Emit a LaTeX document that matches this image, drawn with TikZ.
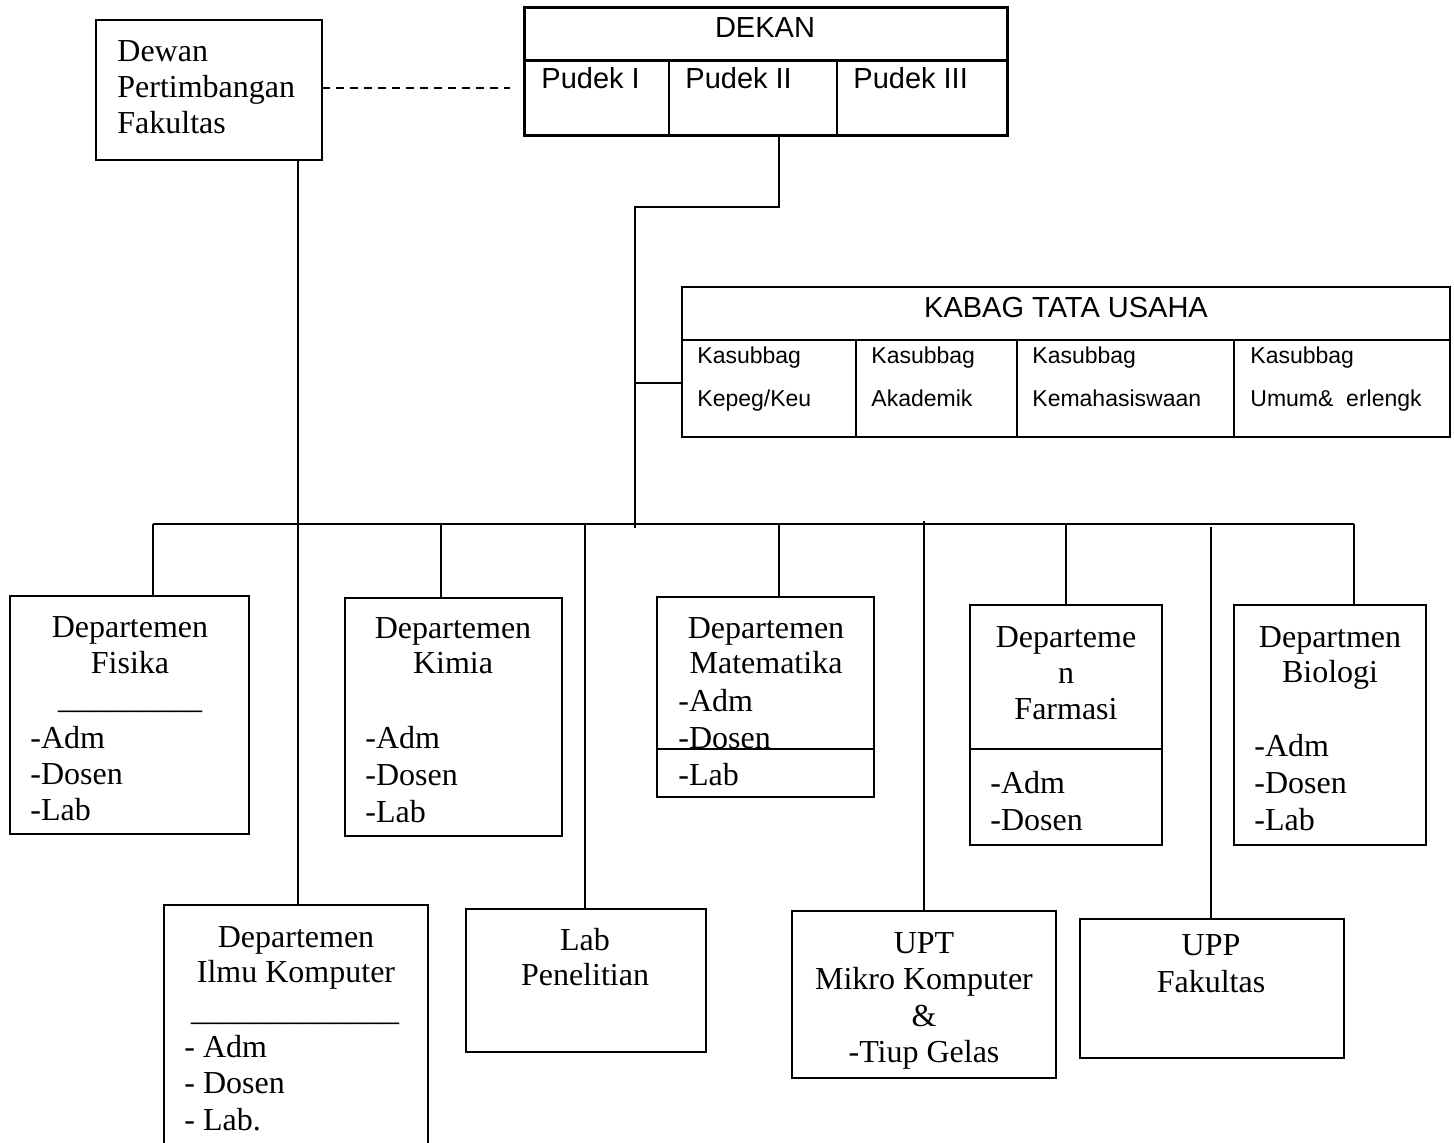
\documentclass[tikz,border=0pt]{standalone}
\usepackage{fontspec}
\setmainfont{Liberation Serif}
\newfontfamily\sansf{Liberation Sans}
\usetikzlibrary{fit}

\begin{document}
\begin{tikzpicture}[x=0.5pt,y=-0.5pt]

\tikzset{kotak/.style={draw,line width=1pt,inner sep=0pt,outer sep=0pt}, %kotak biasa
	garis/.style={line width=1pt},
	teks/.style={font=\fontsize{16}{18}\selectfont,inner sep=0pt},
	kiri/.style={teks,anchor=base west},
	tengah/.style={teks,anchor=base},
	judul/.style={font=\sansf\fontsize{14.5}{17}\selectfont,inner sep=0pt},
	kecil/.style={font=\sansf\fontsize{11.5}{14}\selectfont,inner sep=0pt,anchor=base west}}

\useasboundingbox (0,0) rectangle (1454,1142);

%--------------------DEKAN---------------------
	\node[kotak,line width=1.5pt,fit={(524,7) (1007,135)}] (dek) {};
	\draw[line width=1.5pt] (524,60) -- (1007,60);
	\draw[garis] (669,60) -- (669,135) (837,60) -- (837,135);
	\node[judul,anchor=base] (dek-t) at (765,37) {DEKAN};
	\node[judul,anchor=base west] (pd1) at (541,88) {Pudek I};
	\node[judul,anchor=base west] (pd2) at (685,88) {Pudek II};
	\node[judul,anchor=base west] (pd3) at (853,88) {Pudek III};

%--------------------Dewan Pertimbangan---------------------
	\node[kotak,fit={(96,20) (322,160)}] (dpf) {};
	\node[kiri] (dpf-1) at (117,61) {Dewan};
	\node[kiri] (dpf-2) at (117,97) {Pertimbangan};
	\node[kiri] (dpf-3) at (117,133) {Fakultas};
	\coordinate (dpf-e) at (510,88);
	\draw[line width=0.8pt,dash pattern=on 4pt off 3pt] (dpf.east |- dpf-e) -- (dpf-e);

%--------------------KABAG TATA USAHA---------------------
	\node[kotak,fit={(682,287) (1450,437)}] (kab) {};
	\draw[garis] (682,340) -- (1450,340);
	\foreach \x in {856,1017,1234}
		\draw[garis] (\x,340) -- (\x,437);
	\node[judul,anchor=base] (kab-t) at (1066,317) {KABAG TATA USAHA};
	\foreach \x/\t [count=\i] in {697/{Kepeg/Keu},871/Akademik,1032/Kemahasiswaan,1250/{Umum\&\ \ erlengk}}{
		\node[kecil] (ks-\i) at (\x,363) {Kasubbag};
		\node[kecil] (kb-\i) at (\x,406) {\t};
	}

%--------------------garis tengah---------------------
	\coordinate (p1) at (779,207);
	\coordinate (p2) at (635,207);
	\coordinate (p3) at (635,528);
	\coordinate (p4) at (635,383);
	\draw[garis] (p1 |- dek.south) -- (p1) -- (p2) -- (p3);
	\draw[garis] (p4) -- (kab.west |- p4);

	%garis bus
	\coordinate (bus-l) at (153,524);
	\coordinate (bus-r) at (1354,524);
	\draw[garis] (bus-l) -- (bus-r);

%--------------------Departemen (baris atas)---------------------
	\node[kotak,fit={(10,596) (249,834)}] (fis) {};
	\node[kotak,fit={(345,598) (562,836)}] (kim) {};
	\node[kotak,fit={(657,597) (874,797)}] (mat) {};
	\node[kotak,fit={(970,605) (1162,845)}] (far) {};
	\node[kotak,fit={(1234,605) (1426,845)}] (bio) {};
	\draw[garis] (657,749) -- (874,749);
	\draw[garis] (970,749) -- (1162,749);

	\foreach \x/\n in {153/fis,441/kim,779/mat,1066/far,1354/bio}{
		\coordinate (b) at (\x,524);
		\draw[garis] (b) -- (b |- \n.north);
	}

	%Fisika
	\node[tengah] (fis-1) at (130,637) {Departemen};
	\node[tengah] (fis-2) at (130,673) {Fisika};
	\node[tengah] (fis-u) at (130,708) {\_\_\_\_\_\_\_\_\_};
	\foreach \t [count=\i] in {-Adm,-Dosen,-Lab}
		\node[kiri] (fis-a\i) at (30,{748+36*(\i-1)}) {\t};

	%Kimia
	\node[tengah] (kim-1) at (453,638) {Departemen};
	\node[tengah] (kim-2) at (453,673) {Kimia};
	\foreach \t [count=\i] in {-Adm,-Dosen,-Lab}
		\node[kiri] (kim-a\i) at (365,{748+37*(\i-1)}) {\t};

	%Matematika
	\node[tengah] (mat-1) at (766,638) {Departemen};
	\node[tengah] (mat-2) at (766,673) {Matematika};
	\foreach \t [count=\i] in {-Adm,-Dosen,-Lab}
		\node[kiri] (mat-a\i) at (678,{711+37*(\i-1)}) {\t};

	%Farmasi
	\node[tengah] (far-1) at (1066,647) {Departeme};
	\node[tengah] (far-2) at (1066,683) {n};
	\node[tengah] (far-3) at (1066,719) {Farmasi};
	\node[kiri] (far-a1) at (990,793) {-Adm};
	\node[kiri] (far-a2) at (990,830) {-Dosen};

	%Biologi
	\node[tengah] (bio-1) at (1330,647) {Departmen};
	\node[tengah] (bio-2) at (1330,682) {Biologi};
	\foreach \t [count=\i] in {-Adm,-Dosen,-Lab}
		\node[kiri] (bio-a\i) at (1254,{756+37*(\i-1)}) {\t};

%--------------------baris bawah---------------------
	\node[kotak,fit={(164,905) (428,1160)}] (ilk) {};
	\node[kotak,fit={(466,909) (706,1052)}] (lab) {};
	\node[kotak,fit={(792,911) (1056,1078)}] (upt) {};
	\node[kotak,fit={(1080,919) (1344,1058)}] (upp) {};

	\coordinate (d) at (298,160);
	\draw[garis] (d |- dpf.south) -- (d |- ilk.north);
	\foreach \x/\y/\n in {585/524/lab,924/521/upt,1211/527/upp}{
		\coordinate (b) at (\x,\y);
		\draw[garis] (b) -- (b |- \n.north);
	}

	%Ilmu Komputer
	\node[tengah] (ilk-1) at (296,947) {Departemen};
	\node[tengah] (ilk-2) at (296,982) {Ilmu Komputer};
	\node[tengah] (ilk-u) at (295,1020) {\_\_\_\_\_\_\_\_\_\_\_\_\_};
	\foreach \t [count=\i] in {- Adm,- Dosen,- Lab.}
		\node[kiri] (ilk-a\i) at (184,{1057+36.5*(\i-1)}) {\t};

	%Lab Penelitian
	\node[tengah] (lab-1) at (585,950) {Lab};
	\node[tengah] (lab-2) at (585,985) {Penelitian};

	%UPT
	\foreach \t [count=\i] in {UPT,Mikro Komputer,\&,-Tiup Gelas}
		\node[tengah] (upt-\i) at (924,{953+36.5*(\i-1)}) {\t};

	%UPP
	\node[tengah] (upp-1) at (1211,955) {UPP};
	\node[tengah] (upp-2) at (1211,992) {Fakultas};

\end{tikzpicture}
\end{document}
